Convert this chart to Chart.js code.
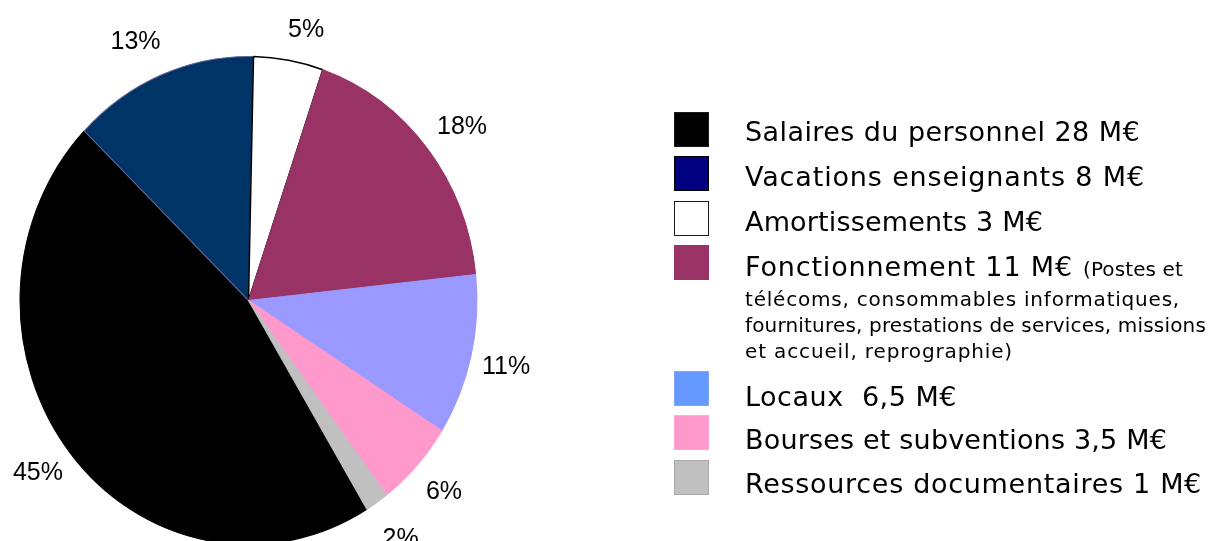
<!DOCTYPE html>
<html>
<head>
<meta charset="utf-8">
<script src="https://cdn.jsdelivr.net/npm/chart.js@4.4.1/dist/chart.umd.min.js"></script>
<style>
    html, body { margin: 0; padding: 0; background: #fff; }
    #wrap { position: relative; width: 1210px; height: 541px; overflow: hidden; }
    #chartBudget { position: absolute; left: 0; top: 0; }
    .key { position: absolute; left: 674px; width: 33px; height: 33px; border: 1px solid; }
    .txt { position: absolute; white-space: pre; font-family: 'DejaVu Sans', sans-serif; color: #000; }
    .big { font-size: 27px; line-height: 27px; }
    .small { font-size: 20px; line-height: 20px; }
</style>
</head>
<body>
<div id="wrap">
    <canvas id="chartBudget" width="1210" height="541"></canvas>
    <div id="legend"></div>
</div>
<script>
const categories = [
    "Salaires du personnel 28 M€",
    "Vacations enseignants 8 M€",
    "Amortissements 3 M€",
    "Fonctionnement 11 M€",
    "Locaux  6,5 M€",
    "Bourses et subventions 3,5 M€",
    "Ressources documentaires 1 M€"
];
const values = [28, 8, 3, 11, 6.5, 3.5, 1];
const pctLabels = ["45%", "13%", "5%", "18%", "11%", "6%", "2%"];
const noteLines = [
    "(Postes et",
    "télécoms, consommables informatiques,",
    "fournitures, prestations de services, missions",
    "et accueil, reprographie)"
];

const sliceColors = ["#000000", "#003366", "#ffffff", "#993366", "#9999ff", "#ff99cc", "#c0c0c0"];
const sliceBorders = ["#000000", "#66669a", "#000000", "#993366", "#9999ff", "#ff99cc", "#c0c0c0"];
const sliceBorderWidths = [1, 1, 1.5, 1, 1, 1, 1];
const keyColors = ["#000000", "#000080", "#ffffff", "#993366", "#6699ff", "#ff99cc", "#c0c0c0"];
const keyBorders = ["#1a1a1a", "#000000", "#1a1a1a", "#993366", "#7aa6ff", "#ffa6d2", "#a9a9a9"];

// layout
const stretchY = 1.068;
const labelGap = 37;
const labelShiftX = [-3, -12, 11, 6, -1, 0, 3];
const labelShiftY = [-4, 4, 9, 3, 3, 0, 4];
const keyTops = [112, 156, 201, 245, 371, 415, 460];
const textBaselines = [141, 186, 231, 276, 406, 449, 493];
const textRights = [1140, 1145, 1043, 1073, 957, 1167, 1202];
const noteBaselines = [276, 306, 332, 358];
const noteLefts = [1083, 745, 745, 745];
const noteRights = [1183, 1180, 1206, 1013];

// squash the pie into the slightly tall ellipse of the original
const ellipsePlugin = {
    id: "ellipse",
    beforeDatasetsDraw(chart) {
        const a = chart.chartArea;
        const cx = (a.left + a.right) / 2;
        const cy = (a.top + a.bottom) / 2;
        const ctx = chart.ctx;
        ctx.save();
        ctx.translate(cx, cy);
        ctx.scale(1, stretchY);
        ctx.translate(-cx, -cy);
    },
    afterDatasetsDraw(chart) {
        chart.ctx.restore();
        const ctx = chart.ctx;
        const arcs = chart.getDatasetMeta(0).data;
        ctx.save();
        ctx.font = "25px 'Liberation Sans', Arial, sans-serif";
        ctx.fillStyle = "#000";
        ctx.textAlign = "center";
        ctx.textBaseline = "middle";
        arcs.forEach((arc, i) => {
            const mid = (arc.startAngle + arc.endAngle) / 2;
            const r = arc.outerRadius + labelGap;
            const x = arc.x + Math.cos(mid) * r + labelShiftX[i];
            const y = arc.y + Math.sin(mid) * r * stretchY + labelShiftY[i];
            ctx.fillText(pctLabels[i], x, y);
        });
        ctx.restore();
    }
};

new Chart(document.getElementById("chartBudget"), {
    type: "pie",
    data: {
        labels: categories,
        datasets: [{
            data: values,
            backgroundColor: sliceColors,
            borderColor: sliceBorders,
            borderWidth: sliceBorderWidths,
            clip: false
        }]
    },
    options: {
        responsive: false,
        animation: false,
        events: [],
        rotation: 148.8,
        radius: 228.5,
        layout: { padding: { left: 0, top: 60, right: 713, bottom: 0 } },
        plugins: {
            legend: { display: false },
            tooltip: { enabled: false }
        }
    },
    plugins: [ellipsePlugin]
});

function addText(str, cls, left, baseline, right) {
    const el = document.createElement("div");
    el.className = "txt " + cls;
    el.textContent = str;
    const size = cls === "big" ? 27 : 20;
    el.style.left = left + "px";
    el.style.top = (baseline - Math.round(size * 0.846)) + "px";
    document.getElementById("legend").appendChild(el);
    const w = el.getBoundingClientRect().width;
    el.style.letterSpacing = ((right - left - w) / str.length) + "px";
}

categories.forEach((name, i) => {
    const key = document.createElement("div");
    key.className = "key";
    key.style.top = keyTops[i] + "px";
    key.style.background = keyColors[i];
    key.style.borderColor = keyBorders[i];
    document.getElementById("legend").appendChild(key);
    addText(name, "big", 745, textBaselines[i], textRights[i]);
});
noteLines.forEach((line, i) => {
    addText(line, "small", noteLefts[i], noteBaselines[i], noteRights[i]);
});
</script>
</body>
</html>
